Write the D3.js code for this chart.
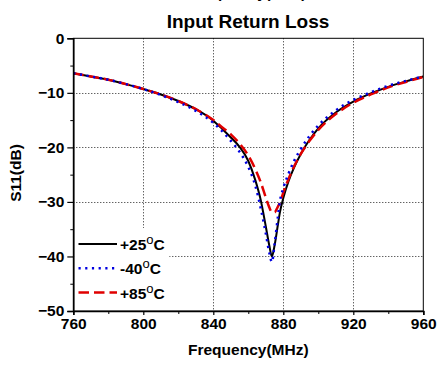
<!DOCTYPE html>
<html>
<head>
<meta charset="utf-8">
<script src="https://cdn.jsdelivr.net/npm/d3@7"></script>
<style>
  html, body { margin: 0; padding: 0; background: #fff; }
  svg { display: block; }
  text { font-family: Arial, "Liberation Sans", sans-serif; font-weight: bold; fill: #000; }
</style>
</head>
<body>
<svg id="chart" width="437" height="367"></svg>
<script>
// Frequency sweep (MHz)
const freq = [760, 770, 780, 790, 800, 810, 820, 830, 840, 845, 850, 855, 860, 864, 867, 870, 872, 873.5, 875, 877, 878, 880, 883, 886, 890, 895, 900, 910, 920, 930, 940, 950, 960];

// S11 (dB) at +25°C
const s11_p25 = [-6.4, -7.0, -7.6, -8.4, -9.3, -10.3, -11.5, -13.0, -15.1, -16.6, -18.2, -19.9, -22.5, -26.0, -29.5, -34.5, -38.0, -40.0, -38.0, -34.0, -32.0, -29.3, -26.2, -23.8, -21.2, -18.6, -16.5, -13.6, -11.6, -10.1, -8.9, -7.9, -7.0];

// S11 (dB) at -40°C
const s11_m40 = [-6.4, -7.0, -7.6, -8.4, -9.3, -10.4, -11.7, -13.3, -15.5, -17.0, -18.8, -20.8, -23.6, -27.0, -31.0, -35.8, -39.3, -41.0, -37.8, -32.5, -30.0, -27.5, -24.8, -22.6, -20.3, -17.9, -16.0, -13.2, -11.3, -9.9, -8.7, -7.8, -7.0];

// S11 (dB) at +85°C
const s11_p85 = [-6.4, -7.0, -7.6, -8.4, -9.3, -10.3, -11.5, -13.0, -15.0, -16.3, -17.6, -19.3, -21.5, -24.0, -26.3, -29.2, -31.0, -31.9, -31.9, -30.8, -30.2, -28.3, -25.8, -23.6, -21.2, -18.8, -16.8, -13.9, -11.8, -10.3, -9.0, -8.0, -7.1];

const xTicks = [760, 800, 840, 880, 920, 960];
const yTicks = [0, -10, -20, -30, -40, -50];
const xMinor = [780, 820, 860, 900, 940];
const yMinor = [-5, -15, -25, -35, -45];

const series = [
  { name: "+25", values: s11_p25, color: "#000", width: 2, dash: null },
  { name: "+85", values: s11_p85, color: "#e00000", width: 2.5, dash: "10.5 5" },
  { name: "-40", values: s11_m40, color: "#0000e0", width: 2.5, dash: "2.2 4.5" }
];
const legendOrder = ["+25", "-40", "+85"];

const svg = d3.select("#chart");
const pLeft = 73.3, pRight = 423.3, pTop = 38.3, pBottom = 311;

const x = d3.scaleLinear().domain([760, 960]).range([pLeft, pRight]);
const y = d3.scaleLinear().domain([-50, 0]).range([pBottom, pTop]);

// Heading above the title, running off the top edge
svg.append("text")
  .attr("x", 248).attr("y", -2.5)
  .attr("text-anchor", "middle")
  .style("font-size", "15px")
  .text("Frequency(MHz)");

// Title
svg.append("text")
  .attr("x", 248).attr("y", 28.3)
  .attr("text-anchor", "middle")
  .style("font-size", "19px")
  .text("Input Return Loss");

// Grid
const grid = svg.append("g").attr("stroke", "#222").attr("stroke-width", 1).attr("stroke-dasharray", "1 2");
grid.selectAll("line.vx").data(xTicks.slice(1, -1)).join("line")
  .attr("x1", d => Math.round(x(d)) + 0.5).attr("x2", d => Math.round(x(d)) + 0.5)
  .attr("y1", pTop).attr("y2", pBottom);
grid.selectAll("line.hy").data(yTicks.slice(1, -1)).join("line")
  .attr("y1", d => Math.round(y(d)) + 0.5).attr("y2", d => Math.round(y(d)) + 0.5)
  .attr("x1", pLeft).attr("x2", pRight);

// Frame
svg.append("rect")
  .attr("x", pLeft).attr("y", pTop)
  .attr("width", pRight - pLeft).attr("height", pBottom - pTop)
  .attr("fill", "none").attr("stroke", "#000").attr("stroke-width", 1);

// Curves
svg.append("clipPath").attr("id", "plot-clip")
  .append("rect").attr("x", pLeft).attr("y", pTop).attr("width", pRight - pLeft).attr("height", pBottom - pTop);

const line = d3.line()
  .x((d, i) => x(freq[i]))
  .y(d => y(d))
  .curve(d3.curveMonotoneX);

const curves = svg.append("g").attr("clip-path", "url(#plot-clip)");
series.forEach(s => {
  curves.append("path")
    .attr("d", line(s.values))
    .attr("fill", "none")
    .attr("stroke", s.color)
    .attr("stroke-width", s.width)
    .attr("stroke-dasharray", s.dash);
});

// Legend (white backing hides the grid underneath)
const lg = svg.append("g");
lg.append("rect").attr("x", pLeft + 1).attr("y", 228).attr("width", 95).attr("height", pBottom - 229).attr("fill", "#fff");
legendOrder.forEach((name, i) => {
  const s = series.find(d => d.name === name);
  const ly = 244 + i * 24.3;
  lg.append("line")
    .attr("x1", 78.5).attr("x2", 117).attr("y1", ly).attr("y2", ly)
    .attr("stroke", s.color).attr("stroke-width", s.width)
    .attr("stroke-dasharray", s.dash);
  const t = lg.append("text").attr("x", 120).attr("y", ly + 6).style("font-size", "15.5px");
  t.append("tspan").text(name);
  t.append("tspan").attr("dy", -6).style("font-size", "13px").style("font-weight", "normal").text("o");
  t.append("tspan").attr("dy", 6).text("C");
});

// Axes
const xAxis = d3.axisBottom(x).tickValues(xTicks).tickSize(4).tickPadding(3).tickFormat(d3.format("d"));
const gx = svg.append("g").attr("transform", `translate(0,${pBottom})`).call(xAxis);
gx.select(".domain").attr("stroke-width", 1.6);
gx.selectAll(".tick line").attr("stroke-width", 1.2);
gx.selectAll(".tick text").style("font-size", "15.5px").style("font-family", "Arial, 'Liberation Sans', sans-serif").style("font-weight", "bold");
svg.append("g").attr("transform", `translate(0,${pBottom})`)
  .call(d3.axisBottom(x).tickValues(xMinor).tickSize(3).tickFormat(""))
  .call(g => g.select(".domain").remove());

const yAxis = d3.axisLeft(y).tickValues(yTicks).tickSize(6).tickPadding(3).tickFormat(d3.format("d"));
const gy = svg.append("g").attr("transform", `translate(${pLeft},0)`).call(yAxis);
gy.select(".domain").attr("stroke-width", 1.6);
gy.selectAll(".tick line").attr("stroke-width", 1.2);
gy.selectAll(".tick text").style("font-size", "15.5px").style("font-family", "Arial, 'Liberation Sans', sans-serif").style("font-weight", "bold");
svg.append("g").attr("transform", `translate(${pLeft},0)`)
  .call(d3.axisLeft(y).tickValues(yMinor).tickSize(3).tickFormat(""))
  .call(g => g.select(".domain").remove());

// Axis titles
svg.append("text")
  .attr("x", 248.3).attr("y", 355)
  .attr("text-anchor", "middle")
  .style("font-size", "15.5px")
  .text("Frequency(MHz)");

svg.append("text")
  .attr("transform", "translate(21,173) rotate(-90)")
  .attr("text-anchor", "middle")
  .style("font-size", "15.5px")
  .text("S11(dB)");
</script>
</body>
</html>
